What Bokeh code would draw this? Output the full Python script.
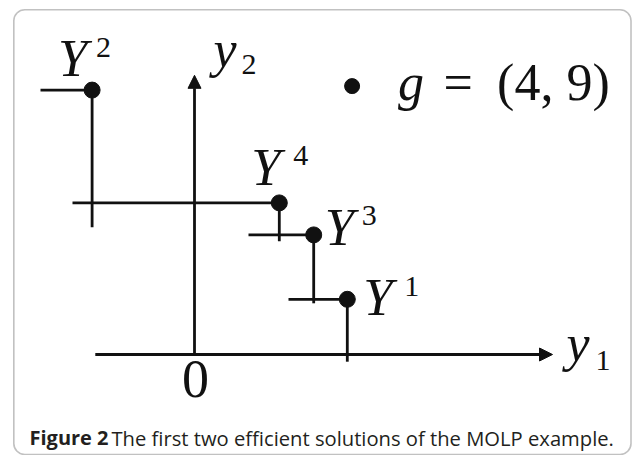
from bokeh.plotting import figure
from bokeh.models import Range1d, Arrow, NormalHead, BoxAnnotation, ColumnDataSource
from bokeh.core.properties import value
from bokeh.embed import file_html
from bokeh.resources import INLINE

# ---------------- data ----------------
point_label = ["Y", "Y", "Y", "Y"]
point_sup = ["1", "2", "3", "4"]
obj1 = [3.82, -2.56, 2.98, 2.12]      # y1 value of each efficient point
obj2 = [1.38, 6.61, 2.99, 3.79]       # y2 value of each efficient point
h_from = [2.35, -3.85, 1.35, -3.05]   # left end of the horizontal line at each point
v_to = [-0.18, 3.18, 1.28, 2.83]      # lower end of the vertical line at each point
x_axis_from = -2.48
x_axis_to = 8.95
y_axis_to = 6.98
origin_text = "0"
x_name, x_sub = "y", "1"
y_name, y_sub = "y", "2"
g_marker = [3.94, 6.71]
g_text = ["g", "=", "(4, 9)"]
caption_bold = "Figure 2"
caption_rest = "The first two efficient solutions of the MOLP example."

# ---------------- layout / style ----------------
W, H = 632, 455
S = 40.0                  # pixels per unit
OX, OY = 194.0, 354.0     # pixel of the origin
INK = "#111111"
LW = 2.8
SERIF = "Liberation Serif"
SANS = "Open Sans"

x_range = Range1d(-OX / S, (W - OX) / S)
y_range = Range1d((OY - H) / S, OY / S)


def px_x(px):
    return x_range.start + px / S


def px_y(py):
    return y_range.end - py / S


p = figure(width=W, height=H, x_range=x_range, y_range=y_range,
           output_backend="svg", toolbar_location=None,
           x_axis_type=None, y_axis_type=None, min_border=0)
p.outline_line_color = None
p.background_fill_color = "white"
p.border_fill_color = "white"

# rounded frame
p.add_layout(BoxAnnotation(left=px_x(13.3), right=px_x(630.5), top=px_y(9.3), bottom=px_y(454),
                           fill_color=None, fill_alpha=0, line_color="#333333",
                           line_width=1.6, border_radius=11))

# axes with arrow heads
p.add_layout(Arrow(end=NormalHead(size=13, fill_color=INK, line_color=INK, line_width=1),
                   x_start=x_axis_from, y_start=0, x_end=x_axis_to, y_end=0,
                   line_color=INK, line_width=LW))
p.add_layout(Arrow(end=NormalHead(size=13, fill_color=INK, line_color=INK, line_width=1),
                   x_start=0, y_start=0, x_end=0, y_end=y_axis_to,
                   line_color=INK, line_width=LW))

src = ColumnDataSource(dict(x=obj1, y=obj2, hx=h_from, vy=v_to,
                            lab=point_label, sup=point_sup,
                            lx=[16, -34, 11, -28], ly=[-2, -32.5, -7.5, -35.5],
                            sx=[57, 4, 48, 14], sy=[-12.5, -43, -19, -47]))

p.segment(x0="hx", y0="y", x1="x", y1="y", source=src, line_color=INK, line_width=LW)
p.segment(x0="x", y0="y", x1="x", y1="vy", source=src, line_color=INK, line_width=LW)
p.scatter(x="x", y="y", source=src, size=16, fill_color=INK, line_color=INK)

p.text(x="x", y="y", text="lab", source=src, x_offset="lx", y_offset="ly",
       text_font=value(SERIF), text_font_style="italic", text_font_size="53px",
       text_baseline="alphabetic", text_color=INK)
p.text(x="x", y="y", text="sup", source=src, x_offset="sx", y_offset="sy",
       text_font=value(SERIF), text_font_size="30px",
       text_baseline="alphabetic", text_color=INK)

# origin label
p.text(x=[0], y=[0], text=[origin_text], x_offset=1, y_offset=24,
       text_font=value(SERIF), text_font_size="54px", text_align="center",
       text_baseline="alphabetic", text_color=INK)

# axis names
p.text(x=[x_axis_to], y=[0], text=[x_name], x_offset=14, y_offset=-11,
       text_font=value(SERIF), text_font_style="italic", text_font_size="52px",
       text_baseline="alphabetic", text_color=INK)
p.text(x=[x_axis_to], y=[0], text=[x_sub], x_offset=43, y_offset=5.5,
       text_font=value(SERIF), text_font_size="30px",
       text_baseline="alphabetic", text_color=INK)
p.text(x=[0], y=[y_axis_to], text=[y_name], x_offset=19, y_offset=-26,
       text_font=value(SERIF), text_font_style="italic", text_font_size="52px",
       text_baseline="alphabetic", text_color=INK)
p.text(x=[0], y=[y_axis_to], text=[y_sub], x_offset=47, y_offset=-10.5,
       text_font=value(SERIF), text_font_size="30px",
       text_baseline="alphabetic", text_color=INK)

# g marker and text
p.scatter(x=[g_marker[0]], y=[g_marker[1]], size=15, fill_color=INK, line_color=INK)
p.text(x=[g_marker[0]], y=[g_marker[1]], text=[g_text[0]], x_offset=46, y_offset=-3.5,
       text_font=value(SERIF), text_font_style="italic", text_font_size="52px",
       text_baseline="alphabetic", text_color=INK)
p.text(x=[g_marker[0]] * 2, y=[g_marker[1]] * 2, text=g_text[1:], x_offset=[91.5, 145],
       y_offset=-3.5, text_font=value(SERIF), text_font_size="52px",
       text_baseline="alphabetic", text_color=INK)

# caption
p.text(x=[px_x(29)], y=[px_y(437)], text=[caption_bold], text_font=value(SANS),
       text_font_style="bold", text_font_size="20px", text_baseline="alphabetic",
       text_color="#231f20")
p.text(x=[px_x(111)], y=[px_y(437)], text=[caption_rest], text_font=value(SANS),
       text_font_size="20.2px", text_baseline="alphabetic", text_color="#231f20")

open("out.html", "w").write(file_html(p, INLINE))
